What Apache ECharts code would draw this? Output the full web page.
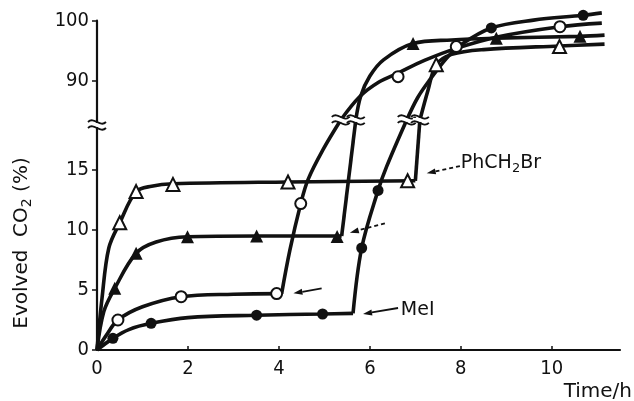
<!DOCTYPE html>
<html><head><meta charset="utf-8">
<script src="https://cdn.jsdelivr.net/npm/echarts@6/dist/echarts.min.js"></script>
<style>html,body{margin:0;padding:0;background:#fff}#c{width:634px;height:401px}</style>
</head><body><div id="c"></div>
<script>
// ---- tick labels ----
const xTicks = [0, 2, 4, 6, 8, 10];
const yTicksLow = [0, 5, 10, 15];
const yTicksUp = [90, 100];
// axis ranges (broken y axis: lower part 0..19.17, upper part 83.5..100)
const xRange = [0, 11.5];
const lowRange = [0, 19.1667];
const upRange = [83.5, 100];
const axisBreakValue = 18.75;

// ---- PhCH2Br (open triangle) ----
const otRise = [[0,0],[0.11,4.3],[0.26,8.5],[0.5,10.6],[0.86,13.2],[1.2,13.65],[1.67,13.85],[4.2,14.0],[7.0,14.1]];
const otJump = [[7.0,14.1],[7.1,19.17]];
const otUpper = [[7.1,83.5],[7.28,88.5],[7.46,92.7],[7.8,94.4],[8.5,95.2],[10.17,95.8],[11.16,96.1]];
const otMarks = [[0.5,10.6],[0.86,13.2],[1.67,13.8],[4.2,14.0],[6.83,14.1],[7.46,92.7],[10.17,95.7]];

// ---- filled triangle ----
const ftRise = [[0,0],[0.15,3.2],[0.39,5.14],[0.86,8.06],[1.3,9.0],[1.99,9.44],[3.51,9.5],[5.38,9.5]];
const ftJump = [[5.38,9.5],[5.69,19.17]];
const ftUpper = [[5.69,83.5],[5.8,87.5],[6.0,90.8],[6.3,93.5],[6.95,96.2],[7.8,96.8],[8.78,97.1],[10.62,97.4],[11.16,97.6]];
const ftMarks = [[0.39,5.14],[0.86,8.06],[1.99,9.44],[3.51,9.5],[5.28,9.45],[6.95,96.2],[8.78,97.1],[10.62,97.4]];

// ---- open circle ----
const ocRise = [[0,0],[0.2,1.2],[0.46,2.5],[1.0,3.6],[1.85,4.44],[3.0,4.65],[4.06,4.7]];
const ocJump = [[4.06,4.7],[4.24,8.3],[4.48,12.2],[4.64,14.2],[4.97,16.7],[5.36,19.17]];
const ocUpper = [[5.36,83.5],[5.78,87.4],[6.2,89.8],[6.62,91.3],[7.2,93.4],[7.9,95.4],[8.8,97.3],[10.18,99.0],[11.1,99.6]];
const ocMarks = [[0.46,2.5],[1.85,4.44],[3.95,4.7],[4.48,12.2],[6.62,90.7],[7.9,95.7],[10.18,99.0]];

// ---- MeI (filled circle) ----
const fcRise = [[0,0],[0.35,0.97],[0.7,1.7],[1.19,2.22],[2.0,2.7],[3.51,2.9],[4.96,3.0],[5.63,3.05]];
const fcJump = [[5.63,3.05],[5.82,8.5],[6.18,13.3],[6.37,15.3],[6.81,19.17]];
const fcUpper = [[6.81,83.5],[7.05,87.2],[7.32,90.2],[7.69,93.8],[8.0,96.0],[8.67,98.8],[9.6,100.1],[10.69,100.9],[11.1,101.3]];
const fcMarks = [[0.35,0.97],[1.19,2.22],[3.51,2.9],[4.96,3.0],[5.82,8.5],[6.18,13.3],[8.67,98.8],[10.69,100.9]];

// ---- annotations (data coords, lower grid) ----
const arrows = [
  {tail:[7.98,15.33], head:[7.25,14.72], dashed:true},
  {tail:[6.33,10.56], head:[5.56,9.78], dashed:true},
  {tail:[4.94,5.14], head:[4.32,4.72], dashed:false},
  {tail:[6.62,3.5], head:[5.85,3.0], dashed:false}
];
const notes = [
  {text:'PhCH{s|2}Br', at:[8.0,15.55]},
  {text:'MeI', at:[6.68,3.33]}
];

const INK = '#111';
const numFont = "'Liberation Sans Narrow','DejaVu Sans Condensed','DejaVu Sans',sans-serif";
const txtFont = "'DejaVu Sans',sans-serif";

const chart = echarts.init(document.getElementById('c'), null, {renderer:'canvas'});

function lineSeries(data, grid, smooth) {
  return {type:'line', data, xAxisIndex:grid, yAxisIndex:grid, smooth: smooth ? 0.35 : false,
    showSymbol:false, symbol:'none', clip:false, silent:true, animation:false,
    lineStyle:{color:INK, width:3.6, opacity:1}, z:2};
}
function markSeries(data, grid, symbol, open) {
  const inGrid = data.filter(p => grid === 0 ? p[1] < 50 : p[1] >= 50);
  return {type:'scatter', data: inGrid, xAxisIndex:grid, yAxisIndex:grid, symbol,
    symbolSize: symbol === 'triangle' ? 13 : 11, clip:false, silent:true, animation:false,
    itemStyle: open ? {color:'#fff', borderColor:INK, borderWidth:2, opacity:1} : {color:INK, opacity:1}, z:4};
}

const breakPts = [ocJump, ftJump, fcJump, otJump].map(a => a[a.length-1]).concat([[0, axisBreakValue]]);

const series = [
  lineSeries(otRise,0,true), lineSeries(otJump,0,false), lineSeries(otUpper,1,true),
  lineSeries(ftRise,0,true), lineSeries(ftJump,0,false), lineSeries(ftUpper,1,true),
  lineSeries(ocRise,0,true), lineSeries(ocJump,0,true), lineSeries(ocUpper,1,true),
  lineSeries(fcRise,0,true), lineSeries(fcJump,0,true), lineSeries(fcUpper,1,true),
  markSeries(otMarks,0,'triangle',true), markSeries(otMarks,1,'triangle',true),
  markSeries(ftMarks,0,'triangle',false), markSeries(ftMarks,1,'triangle',false),
  markSeries(ocMarks,0,'circle',true), markSeries(ocMarks,1,'circle',true),
  markSeries(fcMarks,0,'circle',false), markSeries(fcMarks,1,'circle',false),
  {type:'custom', xAxisIndex:0, yAxisIndex:0, data:breakPts, silent:true, animation:false, z:6, clip:false,
    renderItem(params, api) {
      const p = api.coord([api.value(0), api.value(1)]);
      const wave = dy => ({type:'bezierCurve', shape:{x1:-9,y1:dy,x2:9,y2:dy,cpx1:-3,cpy1:dy-6,cpx2:3,cpy2:dy+6},
        style:{stroke:INK, lineWidth:1.8, fill:null}});
      return {type:'group', x:p[0], y:p[1], children:[
        {type:'rect', shape:{x:-7,y:-2,width:14,height:4}, style:{fill:'#fff'}},
        wave(-3), wave(3)
      ]};
    }}
];

const yLabel = {show:true, fontFamily:numFont, fontSize:20, color:INK, margin:8};
chart.setOption({
  animation:false,
  backgroundColor:'#fff',
  grid:[
    {left:97, right:14, top:120, bottom:51},
    {left:97, right:14, top:20.7, height:99.3}
  ],
  xAxis:[
    {type:'value', gridIndex:0, min:xRange[0], max:xRange[1],
      axisLine:{show:true, lineStyle:{color:INK, width:2.2}},
      axisTick:{show:true, inside:true, length:4, lineStyle:{color:INK, width:1.5}, customValues:xTicks.slice(1)},
      axisLabel:{show:true, customValues:xTicks, fontFamily:numFont, fontSize:20, color:INK, margin:9},
      splitLine:{show:false}},
    {type:'value', gridIndex:1, min:xRange[0], max:xRange[1], show:false}
  ],
  yAxis:[
    {type:'value', gridIndex:0, min:lowRange[0], max:lowRange[1],
      axisLine:{show:true, lineStyle:{color:INK, width:2.2}},
      axisTick:{show:true, length:5, lineStyle:{color:INK, width:1.5}, customValues:yTicksLow},
      axisLabel:Object.assign({customValues:yTicksLow}, yLabel),
      splitLine:{show:false}},
    {type:'value', gridIndex:1, min:upRange[0], max:upRange[1],
      axisLine:{show:true, lineStyle:{color:INK, width:2.2}},
      axisTick:{show:true, length:5, lineStyle:{color:INK, width:1.5}, customValues:yTicksUp},
      axisLabel:Object.assign({customValues:yTicksUp}, yLabel),
      splitLine:{show:false}}
  ],
  series
});

// annotations placed through the axes' scales
const toPx = p => chart.convertToPixel({xAxisIndex:0, yAxisIndex:0}, p);
const graphics = [];
arrows.forEach(a => {
  const t = toPx(a.tail), h = toPx(a.head);
  const ang = Math.atan2(h[1]-t[1], h[0]-t[0]);
  const L = 9, W = 3;
  const bx = h[0] - L*Math.cos(ang), by = h[1] - L*Math.sin(ang);
  const nx = -Math.sin(ang)*W, ny = Math.cos(ang)*W;
  graphics.push({type:'line', shape:{x1:t[0], y1:t[1], x2:bx, y2:by}, z:10,
    style:{stroke:INK, lineWidth:1.8, lineDash: a.dashed ? [4,3] : null}});
  graphics.push({type:'polygon', shape:{points:[[h[0],h[1]],[bx+nx,by+ny],[bx-nx,by-ny]]}, z:10, style:{fill:INK}});
});
notes.forEach(n => {
  const p = toPx(n.at);
  graphics.push({type:'text', x:p[0], y:p[1], z:10, style:{text:n.text, fontFamily:txtFont, fontSize:19, fill:INK,
    textAlign:'left', textVerticalAlign:'middle',
    rich:{s:{fontSize:13, fontFamily:txtFont, fill:INK, padding:[10,0,0,0]}}}});
});
graphics.push({type:'text', x:22, y:243, rotation:Math.PI/2, z:10,
  style:{text:'Evolved  CO{s|2} (%)', fontFamily:txtFont, fontSize:20, fill:INK, textAlign:'center', textVerticalAlign:'middle',
    rich:{s:{fontSize:14, fontFamily:txtFont, fill:INK, padding:[10,0,0,0]}}}});
graphics.push({type:'text', x:632, y:392, z:10,
  style:{text:'Time/h', fontFamily:txtFont, fontSize:20, fill:INK, textAlign:'right', textVerticalAlign:'middle'}});
chart.setOption({graphic: graphics});
</script></body></html>
